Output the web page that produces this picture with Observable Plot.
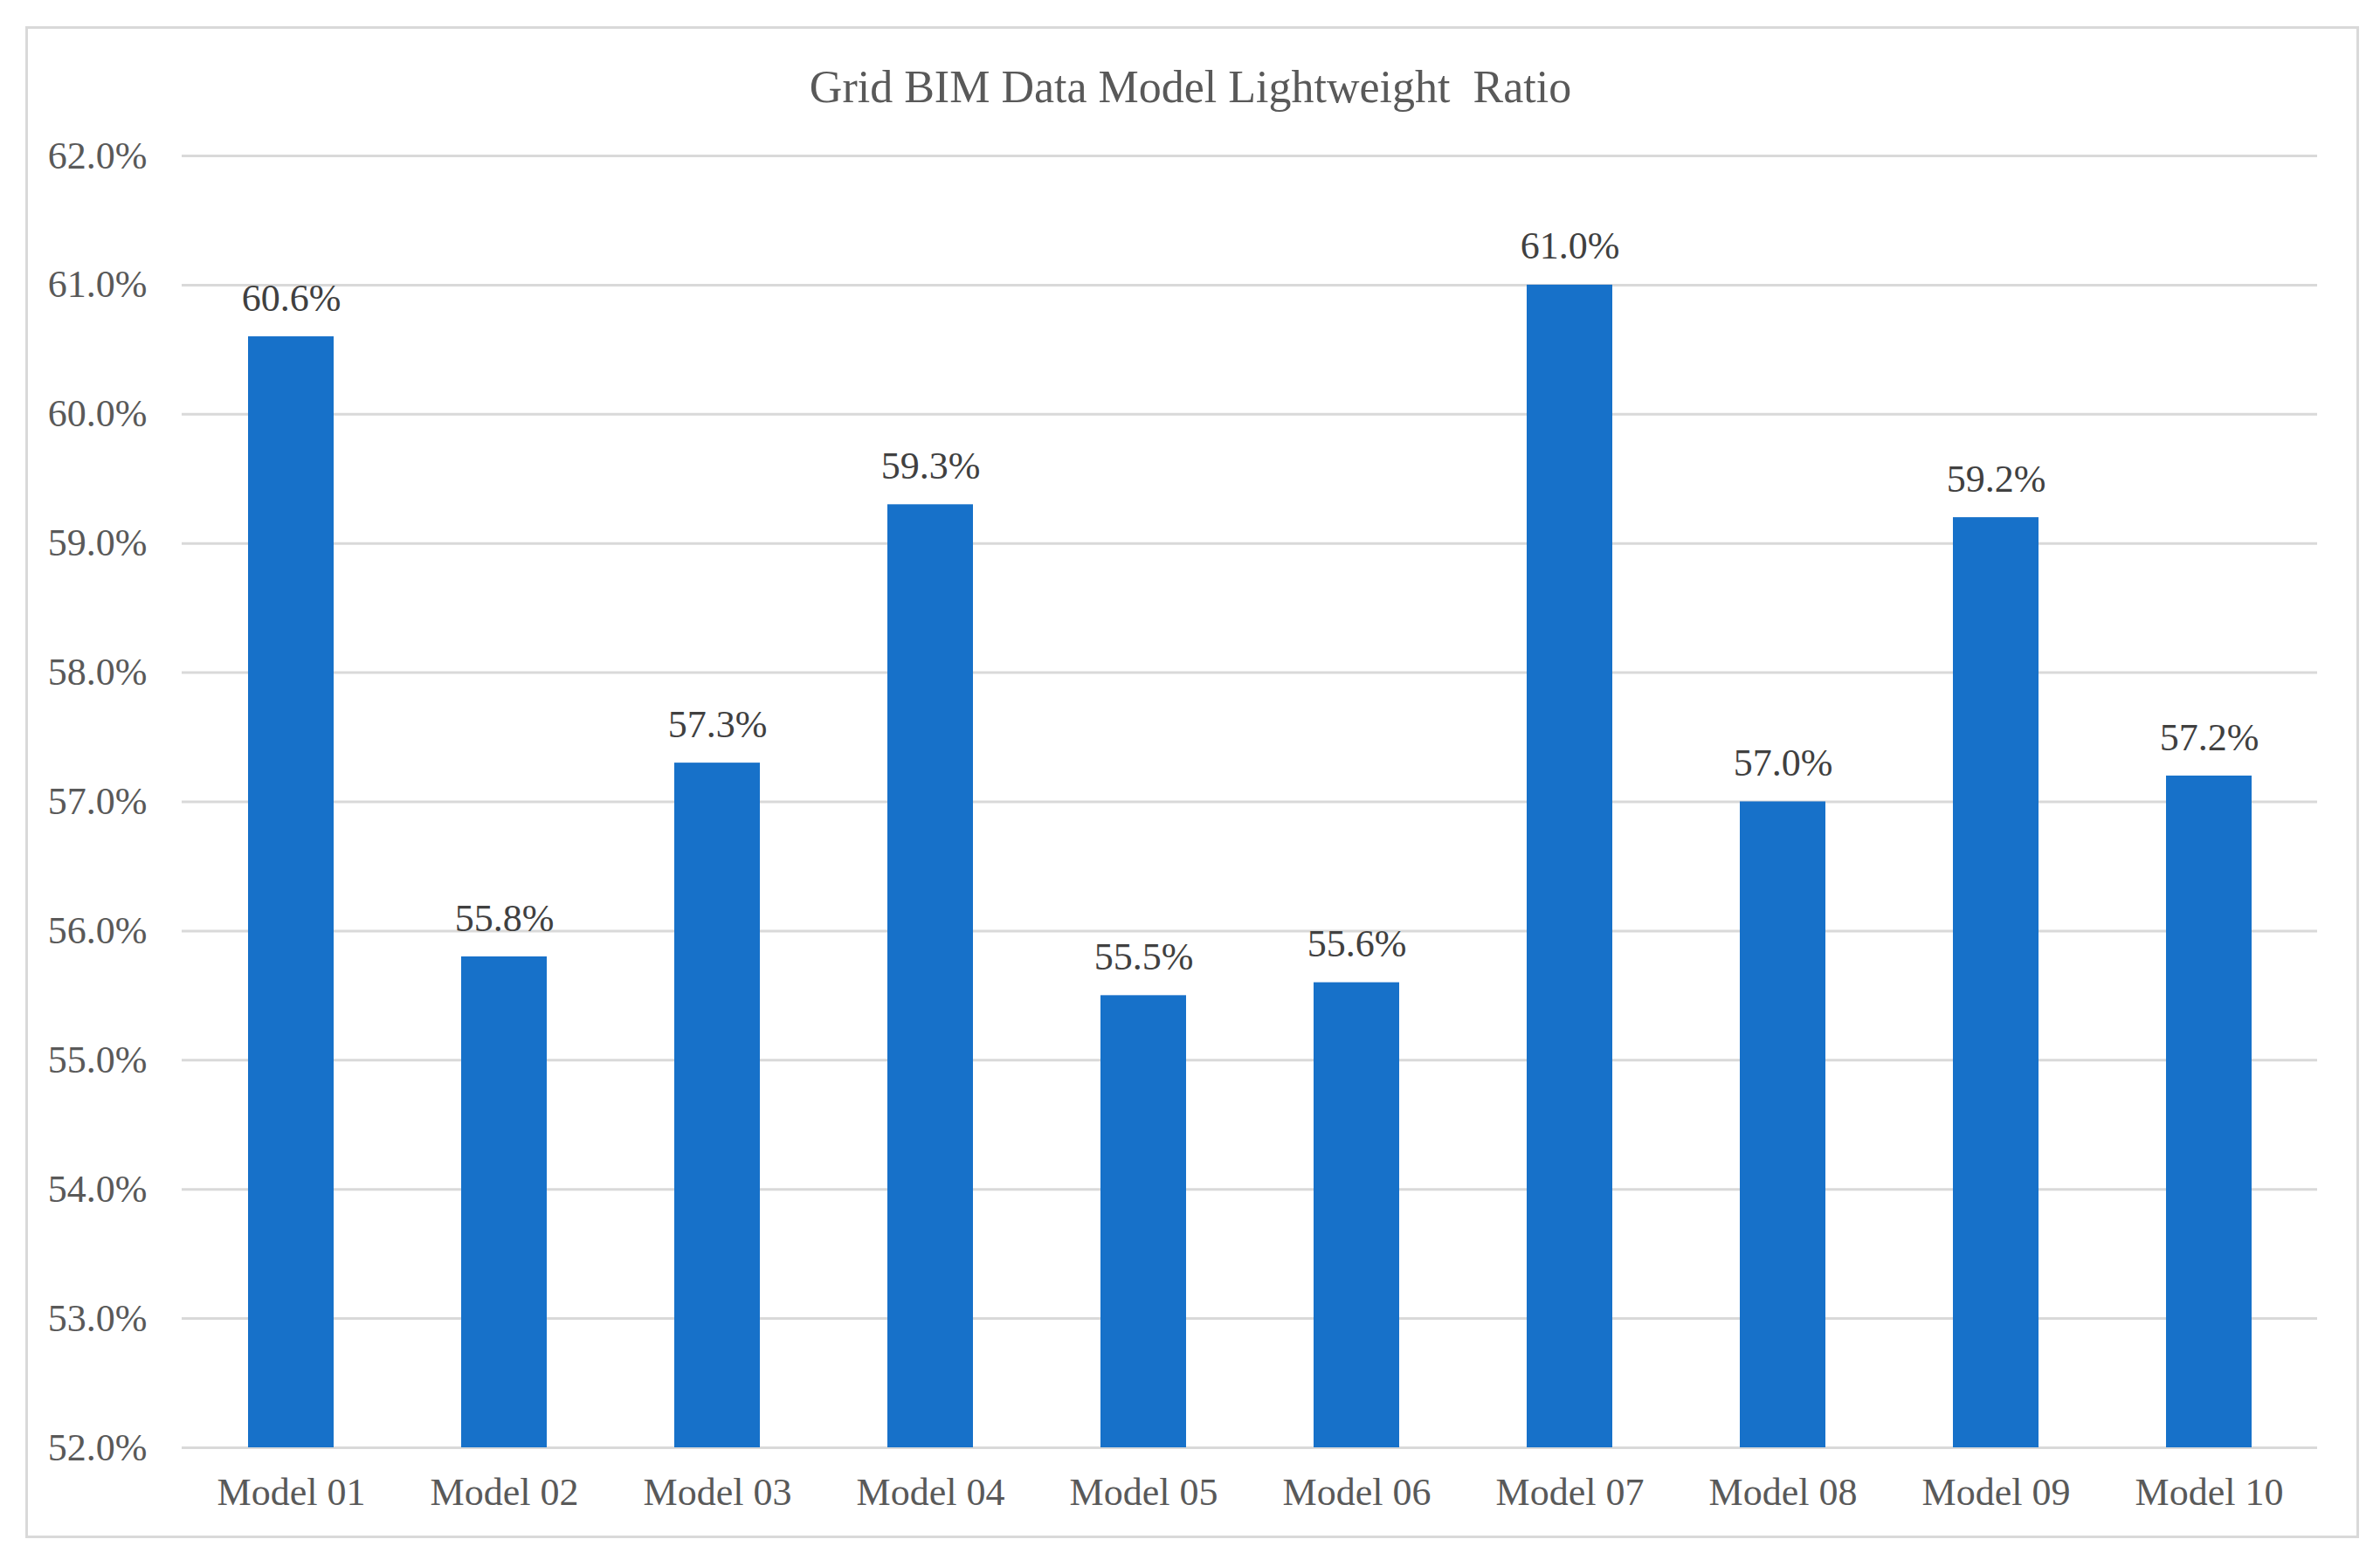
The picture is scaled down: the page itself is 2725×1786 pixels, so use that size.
<!DOCTYPE html>
<html>
<head>
<meta charset="utf-8">
<script src="https://cdn.jsdelivr.net/npm/d3@7"></script>
<script src="https://cdn.jsdelivr.net/npm/@observablehq/plot@0.6"></script>
<style>
  html, body { margin: 0; padding: 0; background: #ffffff; }
  #wrap { position: relative; width: 2725px; height: 1786px; overflow: hidden; }
  #border { position: absolute; left: 29px; top: 30px; width: 2672px; height: 1731px;
            border: 3px solid #d9d9d9; box-sizing: border-box; pointer-events: none; }
  #chart { position: absolute; left: 0; top: 0; }
</style>
</head>
<body>
<div id="wrap">
  <div id="border"></div>
  <div id="chart"></div>
</div>
<script>
const title = "Grid BIM Data Model Lightweight\u00a0 Ratio";
const models = ["Model 01","Model 02","Model 03","Model 04","Model 05","Model 06","Model 07","Model 08","Model 09","Model 10"];
const ratios = [60.6, 55.8, 57.3, 59.3, 55.5, 55.6, 61.0, 57.0, 59.2, 57.2];
const yTicks = [52, 53, 54, 55, 56, 57, 58, 59, 60, 61, 62];

const data = models.map((m, i) => ({model: m, ratio: ratios[i]}));
const fmt = v => v.toFixed(1) + "%";
const font = "'Liberation Serif', 'Times New Roman', serif";

const chart = Plot.plot({
  width: 2725,
  height: 1786,
  marginLeft: 208,
  marginRight: 72,
  marginTop: 178,
  marginBottom: 129,
  style: {fontFamily: font, background: "transparent"},
  x: {domain: models, paddingInner: 0.6, paddingOuter: 0.3, label: null},
  y: {domain: [52, 62], ticks: yTicks, label: null},
  marks: [
    Plot.gridY(yTicks, {stroke: "#d9d9d9", strokeOpacity: 1, strokeWidth: 3}),
    Plot.barY(data, {x: "model", y1: 52, y2: "ratio", fill: "#1771c9"}),
    Plot.text(data, {x: "model", y: "ratio", text: d => fmt(d.ratio), dy: -44,
      fontSize: 44, fill: "#404040", textAnchor: "middle", fontFamily: font}),
    Plot.axisY({ticks: yTicks, tickSize: 0, tickPadding: 40, fontSize: 44,
      tickFormat: fmt, fill: "#595959", label: null, fontFamily: font}),
    Plot.axisX({tickSize: 0, tickPadding: 34, fontSize: 44, fill: "#595959",
      label: null, fontFamily: font}),
    Plot.text([title], {frameAnchor: "top", dy: -98, dx: -68, fontSize: 52, fill: "#595959",
      fontFamily: font, text: d => d, textAnchor: "middle"})
  ]
});
document.getElementById("chart").appendChild(chart);
</script>
</body>
</html>
